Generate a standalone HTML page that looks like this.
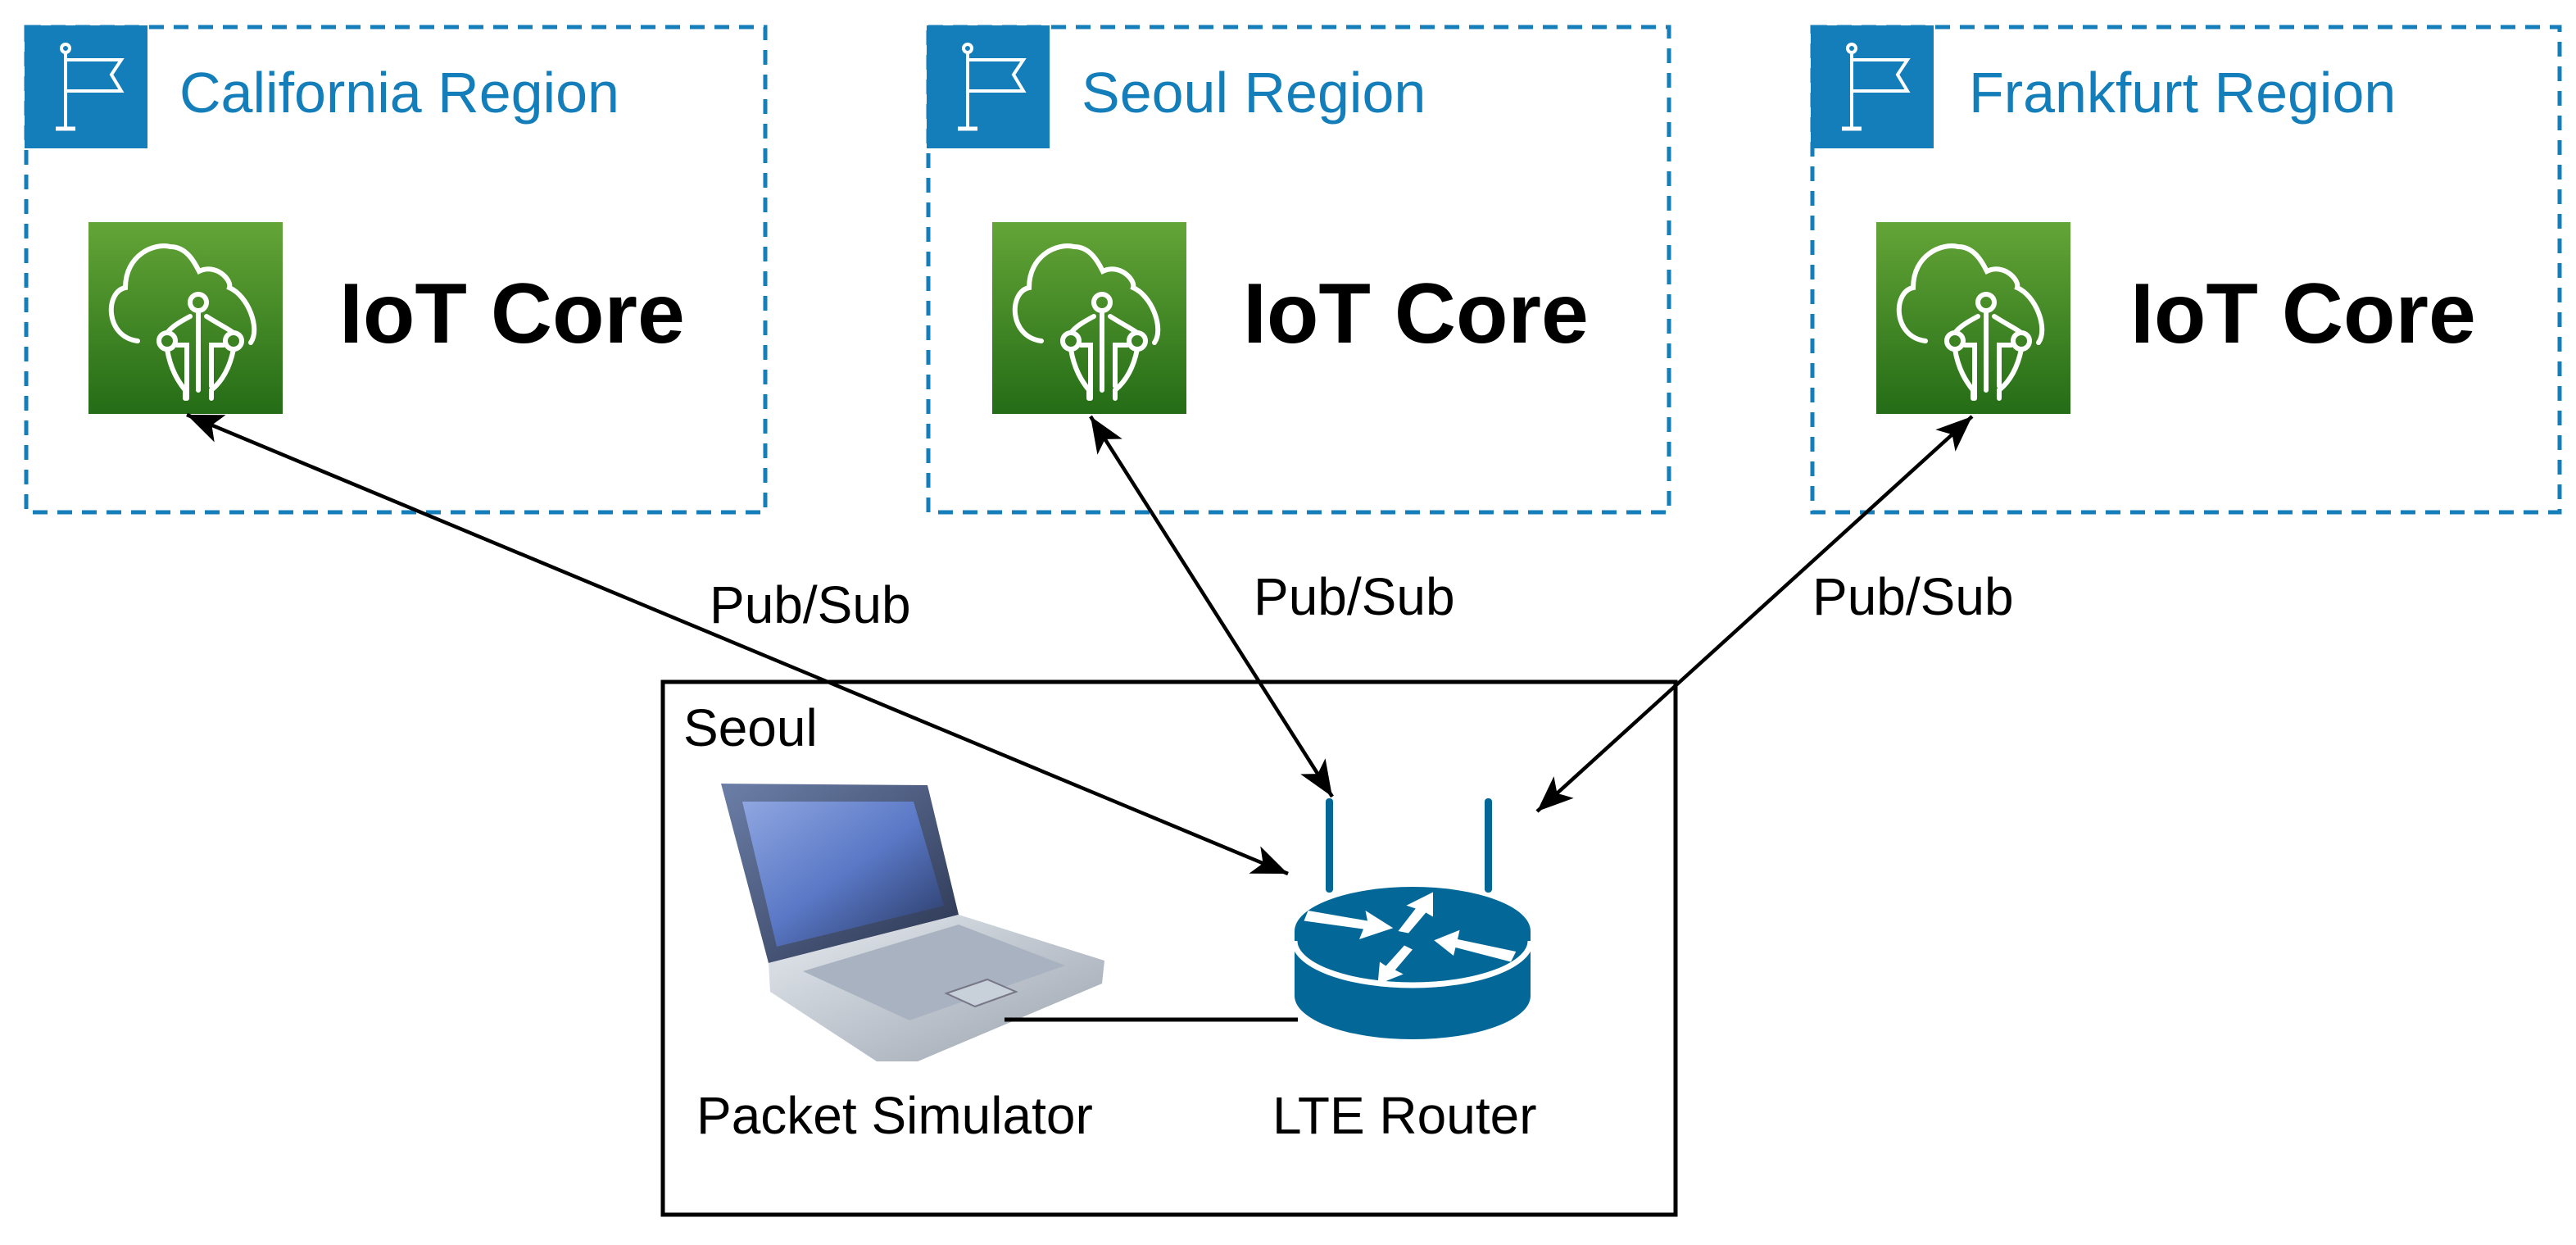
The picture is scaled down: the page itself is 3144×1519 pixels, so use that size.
<!DOCTYPE html>
<html><head><meta charset="utf-8"><style>
html,body{margin:0;padding:0;background:#fff}
svg{display:block}
text{font-family:"Liberation Sans",Arial,sans-serif}
</style></head><body>
<svg width="3144" height="1519" viewBox="0 0 3144 1519" xmlns="http://www.w3.org/2000/svg">
<defs>
<linearGradient id="g" x1="0" y1="0" x2="0" y2="1"><stop offset="0" stop-color="#64A537"/><stop offset="1" stop-color="#246C16"/></linearGradient>
<linearGradient id="scr" x1="0" y1="0" x2="1" y2="1"><stop offset="0" stop-color="#8FA6E0"/><stop offset="0.5" stop-color="#5A78C6"/><stop offset="1" stop-color="#26365E"/></linearGradient>
<linearGradient id="lid" x1="0" y1="0" x2="1" y2="1"><stop offset="0" stop-color="#6C7FA8"/><stop offset="1" stop-color="#2A3450"/></linearGradient>
<linearGradient id="base" x1="0" y1="0" x2="1" y2="1"><stop offset="0" stop-color="#E6EAF0"/><stop offset="1" stop-color="#9AA3AE"/></linearGradient>
<marker id="ah" markerUnits="userSpaceOnUse" markerWidth="50" markerHeight="40" refX="44" refY="18" orient="auto-start-reverse" viewBox="0 0 50 36">
<path d="M0,0 L44,18 L0,36 L11,18 Z" fill="#000"/></marker>
<g id="flag"><rect x="0" y="0" width="150" height="150" fill="#147EBA"/>
<g stroke="#fff" stroke-width="4" fill="none"><circle cx="50" cy="28" r="5"/><line x1="50" y1="33" x2="50" y2="126"/><line x1="38" y1="126" x2="62" y2="126" stroke-width="5"/><path d="M50,42 H118 L106,60 L118,80 H50"/></g></g>
<g id="iot"><rect x="0" y="0" width="237" height="234" fill="url(#g)"/>
<g stroke="#fff" stroke-width="6" fill="none" stroke-linecap="round">
<path d="M60,145 C20,140 20,85 45,80 C45,40 80,25 100,30 C120,30 130,50 135,60 C155,50 175,70 172,80 C195,90 210,130 198,147"/>
<circle cx="134" cy="98" r="10"/><circle cx="96" cy="145" r="10"/><circle cx="177" cy="145" r="10"/>
<path d="M134,108 V205 M124,115 C105,125 100,130 96,135 M144,115 C160,125 170,130 177,135"/>
<path d="M96,155 C100,180 110,195 118,205 V215 M177,155 C172,180 162,195 150,205 V215"/>
<path d="M108,150 H120 V215 M165,150 H150 V200"/>
</g></g>
</defs>

<g fill="none" stroke="#147EBA" stroke-width="5" stroke-dasharray="18,12">
<rect x="32" y="33" width="902" height="592"/>
<rect x="1133" y="33" width="904" height="592"/>
<rect x="2212" y="33" width="912" height="592"/>
</g>
<use href="#flag" x="30" y="31"/>
<use href="#flag" x="1131" y="31"/>
<use href="#flag" x="2210" y="31"/>
<g fill="#147EBA" font-size="70">
<text x="219" y="137">California Region</text>
<text x="1320" y="137">Seoul Region</text>
<text x="2403" y="137">Frankfurt Region</text>
</g>
<use href="#iot" x="108" y="271"/>
<use href="#iot" x="1211" y="271"/>
<use href="#iot" x="2290" y="271"/>
<g font-size="104" font-weight="bold" fill="#000">
<text x="414" y="418">IoT Core</text>
<text x="1517" y="418">IoT Core</text>
<text x="2600" y="418">IoT Core</text>
</g>

<rect x="809" y="832" width="1236" height="650" fill="none" stroke="#000" stroke-width="5"/>
<g font-size="64" fill="#000">
<text x="834" y="910">Seoul</text>
<text x="850" y="1383">Packet Simulator</text>
<text x="1553" y="1383">LTE Router</text>
<text x="866" y="760">Pub/Sub</text>
<text x="1530" y="750">Pub/Sub</text>
<text x="2212" y="750">Pub/Sub</text>
</g>

<g>
<path d="M880,956 L1132,958 L1170,1116 L938,1175 Z" fill="url(#lid)"/>
<path d="M906,978 L1115,978 L1152,1105 L948,1155 Z" fill="url(#scr)"/>
<path d="M938,1175 L1170,1116 L1348,1172 L1345,1200 L1120,1295 L1070,1295 L940,1210 Z" fill="url(#base)"/>
<path d="M980,1185 L1170,1128 L1300,1178 L1110,1245 Z" fill="#A9B2C0"/>
<path d="M1155,1212 L1205,1195 L1240,1210 L1190,1228 Z" fill="#C8D0DA" stroke="#778" stroke-width="2"/>
</g>
<line x1="1226" y1="1244" x2="1584" y2="1244" stroke="#000" stroke-width="5"/>

<g fill="#036897">
<rect x="1618" y="974" width="9" height="115" rx="4"/>
<rect x="1812" y="974" width="9" height="115" rx="4"/>
<path d="M1580,1136 V1215 A144,53 0 0 0 1868,1215 V1136 Z"/>
<ellipse cx="1724" cy="1136" rx="144" ry="54"/>
</g>
<path d="M1580,1148 A144,54 0 0 0 1868,1148" fill="none" stroke="#fff" stroke-width="7"/>
<g fill="#fff" transform="translate(1724,1136) scale(1.25) translate(-1724,-1128)">
<path d="M1622,1108 L1680,1118 L1678,1108 L1705,1125 L1672,1136 L1676,1126 L1618,1118 Z"/>
<path d="M1744,1090 L1718,1103 L1727,1106 L1710,1128 L1720,1130 L1737,1110 L1744,1114 Z"/>
<path d="M1825,1148 L1768,1136 L1770,1127 L1745,1137 L1764,1152 L1766,1144 L1820,1158 Z"/>
<path d="M1690,1180 L1715,1170 L1707,1166 L1724,1146 L1716,1142 L1698,1162 L1692,1158 Z"/>
</g>

<g stroke="#000" stroke-width="4.5" fill="none">
<line x1="228" y1="506" x2="1572" y2="1066" marker-start="url(#ah)" marker-end="url(#ah)"/>
<line x1="1331" y1="508" x2="1626" y2="972" marker-start="url(#ah)" marker-end="url(#ah)"/>
<line x1="2407" y1="508" x2="1876" y2="990" marker-start="url(#ah)" marker-end="url(#ah)"/>
</g>
</svg>
</body></html>
